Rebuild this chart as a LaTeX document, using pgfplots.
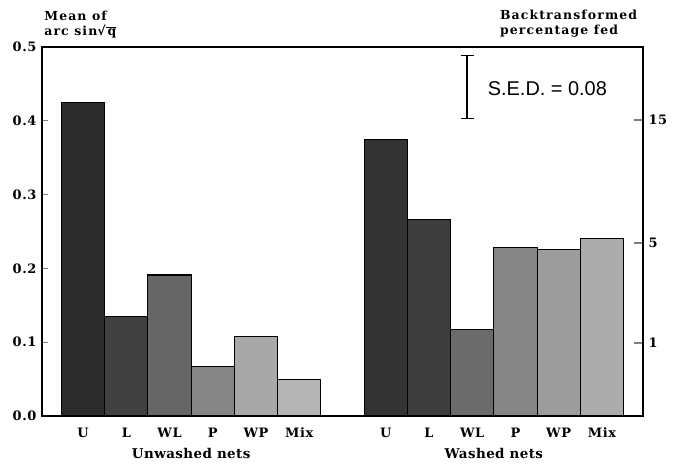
\documentclass[border=0pt]{standalone}
\usepackage{pgfplots}
\pgfplotsset{compat=1.18}
\usetikzlibrary{arrows.meta}
\usepackage{fontspec}
\setmainfont{DejaVu Serif}
\newfontfamily\sedfont{Liberation Sans}
\newfontfamily\symfont{DejaVu Sans}

% bar shades (the original is a dithered print)
\definecolor{uU}{gray}{0.17}
\definecolor{uL}{gray}{0.25}
\definecolor{uWL}{gray}{0.40}
\definecolor{uP}{gray}{0.52}
\definecolor{uWP}{gray}{0.66}
\definecolor{uMix}{gray}{0.71}
\definecolor{wU}{gray}{0.20}
\definecolor{wL}{gray}{0.24}
\definecolor{wWL}{gray}{0.42}
\definecolor{wP}{gray}{0.52}
\definecolor{wWP}{gray}{0.61}
\definecolor{wMix}{gray}{0.67}

\newcommand{\lab}{\fontsize{13}{15}\selectfont\bfseries\addfontfeatures{LetterSpace=5}}
\newcommand{\grp}{\fontsize{13.5}{15}\selectfont\bfseries\addfontfeatures{LetterSpace=3}}
\newcommand{\ttl}{\fontsize{12.5}{15}\selectfont\bfseries\addfontfeatures{LetterSpace=9}}

\pgfplotsset{
  bar/.style={ybar, bar width=1, bar shift=0pt, draw=black, line width=1.1bp, fill=#1},
}

\begin{document}
\begin{tikzpicture}
\useasboundingbox (-42bp,-48bp) rectangle (631bp,416bp);

\begin{axis}[
    scale only axis,
    width=601bp, height=369bp,
    xmin=0.05, xmax=13.95,
    ymin=0, ymax=0.5,
    clip=false,
    axis line style={line width=1.2bp},
    ytick={0,0.1,0.2,0.3,0.4,0.5},
    yticklabels={0.0,0.1,0.2,0.3,0.4,0.5},
    ytick pos=left,
    tick align=inside,
    major tick length=6bp,
    major tick style={line width=1.2bp},
    yticklabel style={font=\lab, xshift=-2bp},
    xtick={1,2,3,4,5,6,8,9,10,11,12,13},
    xticklabels={U,L,WL,P,WP,Mix,U,L,WL,P,WP,Mix},
    xtick pos=bottom,
    major x tick style={draw=none},
    xticklabel style={font=\lab, anchor=base, yshift=-21bp},
]
% unwashed nets
\addplot[bar=uU]   coordinates {(1,0.425)};
\addplot[bar=uL]   coordinates {(2,0.135)};
\addplot[bar=uWL]  coordinates {(3,0.191)};
\addplot[bar=uP]   coordinates {(4,0.067)};
\addplot[bar=uWP]  coordinates {(5,0.108)};
\addplot[bar=uMix] coordinates {(6,0.049)};
% washed nets
\addplot[bar=wU]   coordinates {(8,0.375)};
\addplot[bar=wL]   coordinates {(9,0.266)};
\addplot[bar=wWL]  coordinates {(10,0.117)};
\addplot[bar=wP]   coordinates {(11,0.228)};
\addplot[bar=wWP]  coordinates {(12,0.226)};
\addplot[bar=wMix] coordinates {(13,0.240)};

% S.E.D. bar
\draw[line width=1.2bp, {Bar[width=13bp]}-{Bar[width=13bp]}]
  (axis cs:9.88,0.402) -- (axis cs:9.88,0.489);
\node[anchor=west, font=\sedfont\fontsize{20}{22}\selectfont] at (axis cs:10.28,0.444) {S.E.D. = 0.08};

% group labels
\node[font=\grp, anchor=base] at (axis cs:3.5,-0.058) {Unwashed nets};
\node[font=\grp, anchor=base] at (axis cs:10.5,-0.058) {Washed nets};

% axis titles
\node[font=\ttl, align=left, anchor=base west, inner sep=0pt] at (axis cs:0.1,0.5155)
  {Mean of\\arc sin{\symfont\bfseries √}$\overline{\mbox{\ttl\,q}}$};
\node[font=\ttl, align=left, anchor=base west, inner sep=0pt] at (axis cs:10.64,0.5165)
  {Backtransformed\\percentage fed};
\end{axis}

% right-hand scale: backtransformed percentage fed
\begin{axis}[
    scale only axis,
    width=601bp, height=369bp,
    xmin=0.05, xmax=13.95,
    ymin=0, ymax=0.5,
    axis x line=none,
    axis y line*=right,
    axis line style={line width=1.2bp, -},
    ytick={0.099,0.2345,0.401},
    yticklabels={1,5,15},
    tick align=inside,
    major tick length=9bp,
    major tick style={line width=1.2bp},
    yticklabel style={font=\lab, xshift=2bp},
]
\end{axis}
\end{tikzpicture}
\end{document}
